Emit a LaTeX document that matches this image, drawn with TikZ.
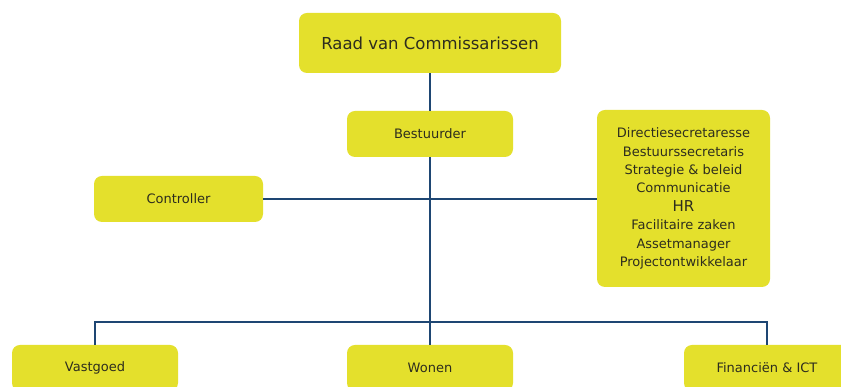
\documentclass[tikz,border=0pt]{standalone}
\usepackage{fontspec}
\setmainfont{DejaVu Sans}
\definecolor{boxyellow}{RGB}{228,224,44}
\definecolor{linkblue}{RGB}{30,70,115}
\definecolor{txt}{RGB}{45,45,30}
\begin{document}
\begin{tikzpicture}[x=1pt,y=1pt,
  orgbox/.style={fill=boxyellow,rounded corners=8pt,inner sep=0pt,align=center,text=txt,font=\fontsize{13}{18.4}\selectfont},
  link/.style={draw=linkblue,line width=2.4pt}]
\useasboundingbox[fill=white] (0,0) rectangle (841,387);
\node[orgbox,minimum width=262pt,minimum height=60pt,font=\fontsize{16.5}{20}\selectfont] (raad) at (430,344) {Raad van Commissarissen};
\node[orgbox,minimum width=166pt,minimum height=46pt] (best) at (430,253) {Bestuurder};
\node[orgbox,minimum width=169pt,minimum height=46pt] (ctrl) at (178.5,188) {Controller};
\node[orgbox,minimum width=173pt,minimum height=177pt] (staff) at (683.5,188.5) {Directiesecretaresse\\Bestuurssecretaris\\Strategie \& beleid\\Communicatie\\{\fontsize{15}{18.4}\selectfont HR}\\Facilitaire zaken\\Assetmanager\\Projectontwikkelaar};
\node[orgbox,minimum width=166pt,minimum height=46pt] (vast) at (95,19) {Vastgoed};
\node[orgbox,minimum width=166pt,minimum height=46pt] (won) at (430,19) {Wonen};
\node[orgbox,minimum width=166pt,minimum height=46pt] (fin) at (767,19) {Financiën \& ICT};
\coordinate (bus) at (430,65);
\draw[link] (raad.south) -- (best.north);
\draw[link] (best.south) -- (won.north);
\draw[link] (ctrl.east) -- (ctrl.east -| staff.west);
\draw[link] (vast.north) |- (bus) -| (fin.north);
\end{tikzpicture}
\end{document}
